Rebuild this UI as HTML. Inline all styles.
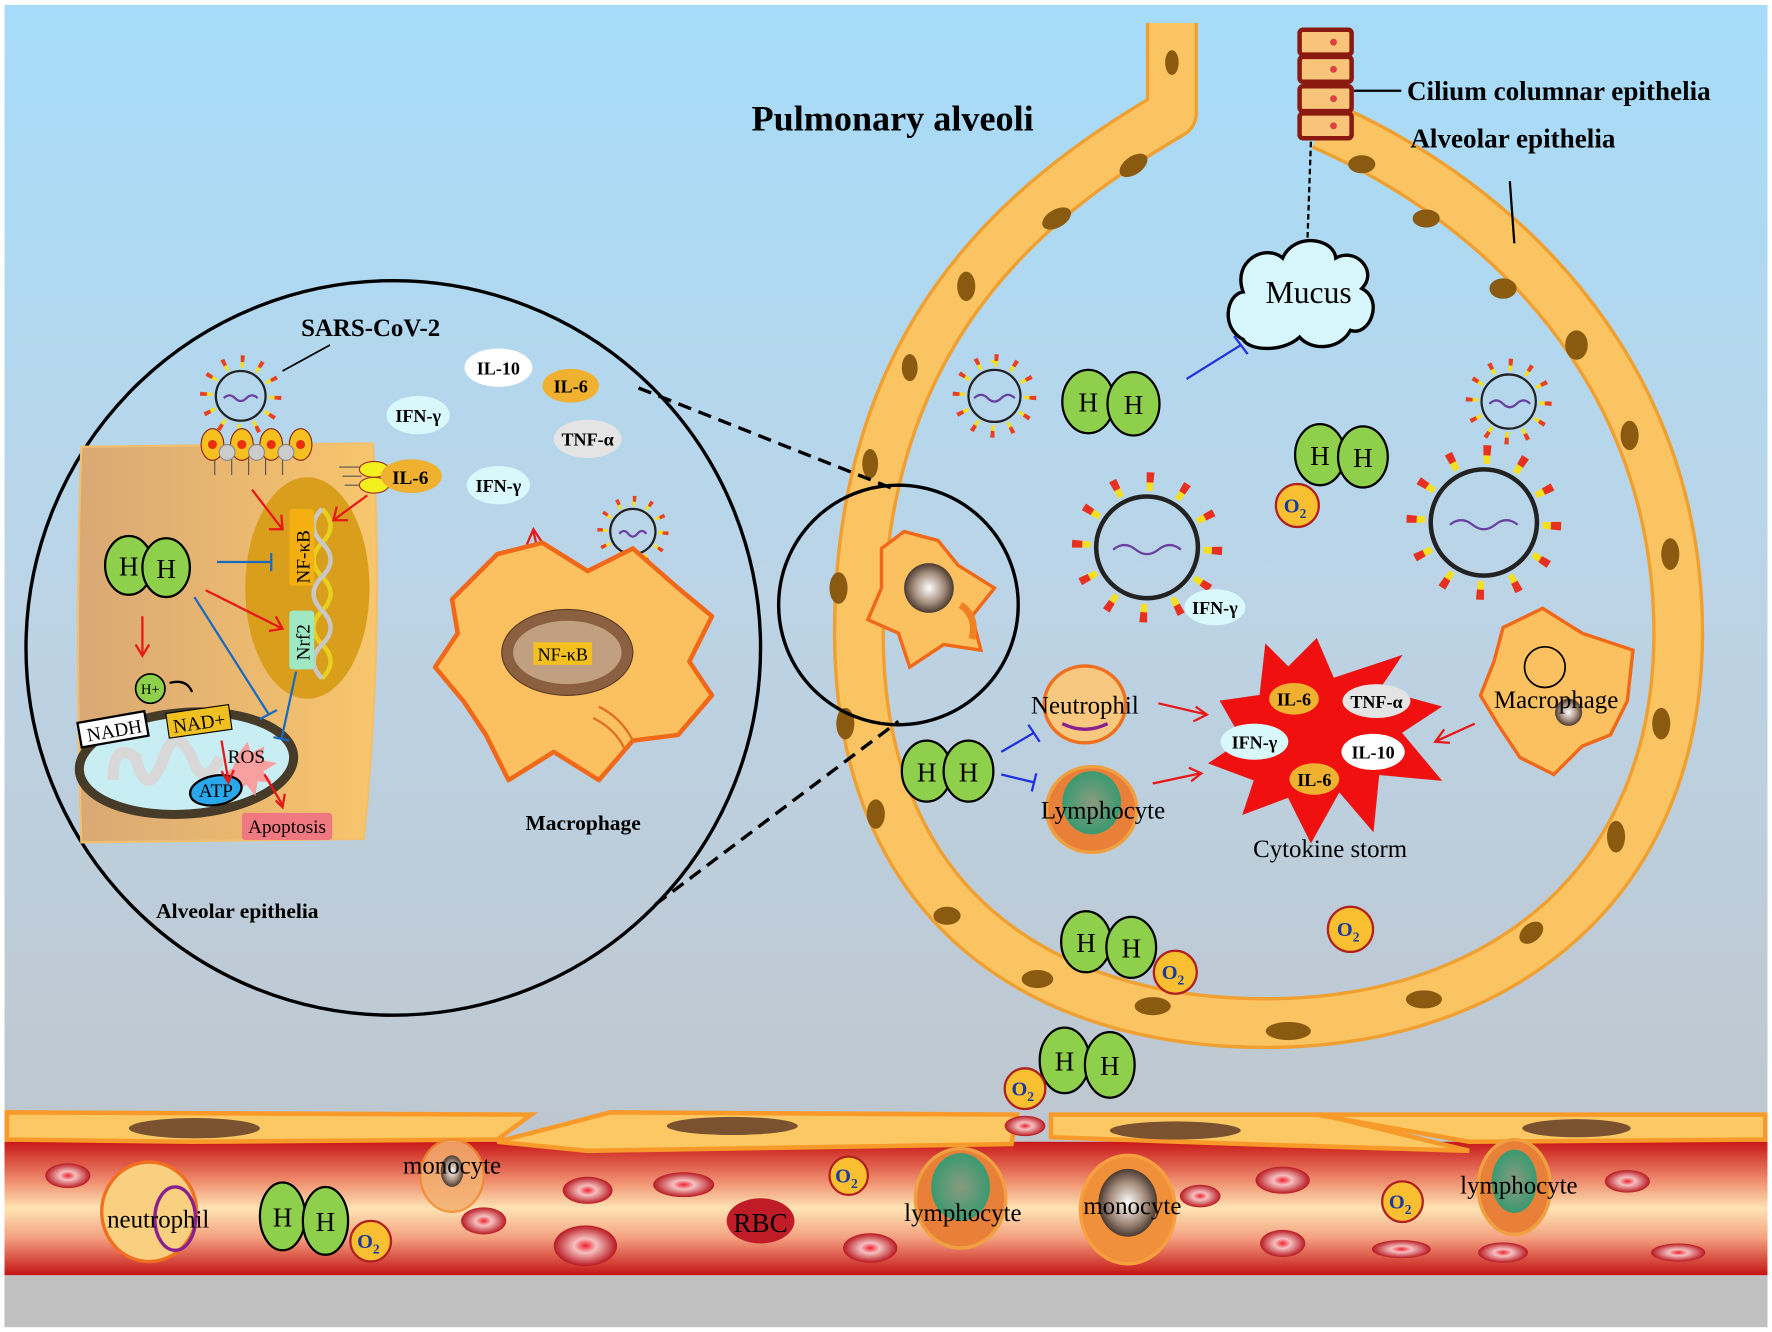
<!DOCTYPE html>
<html><head><meta charset="utf-8"><style>
html,body{margin:0;padding:0;background:#fff}
svg{display:block}
text{font-family:"Liberation Serif",serif}
</style></head><body>
<svg width="1772" height="1332" viewBox="0 0 1568 1178" xmlns="http://www.w3.org/2000/svg">
<defs>
<linearGradient id="bg" x1="0" y1="0" x2="0" y2="1">
<stop offset="0" stop-color="#a6dcf9"/><stop offset="0.45" stop-color="#bcd4e6"/><stop offset="1" stop-color="#bfc2c6"/>
</linearGradient>
<linearGradient id="ves" x1="0" y1="0" x2="0" y2="1">
<stop offset="0" stop-color="#c81818"/><stop offset="0.3" stop-color="#f09070"/><stop offset="0.5" stop-color="#fde4b4"/><stop offset="0.72" stop-color="#f4a080"/><stop offset="1" stop-color="#c41414"/>
</linearGradient>
<linearGradient id="cell" x1="0" y1="0" x2="1" y2="0">
<stop offset="0" stop-color="#d9a874"/><stop offset="1" stop-color="#f8c66c"/>
</linearGradient>
<radialGradient id="rbc"><stop offset="0" stop-color="#f02030"/><stop offset="0.35" stop-color="#f6c0c0"/><stop offset="1" stop-color="#b81820"/></radialGradient>
<radialGradient id="nuc"><stop offset="0" stop-color="#fff"/><stop offset="0.6" stop-color="#a89080"/><stop offset="1" stop-color="#4a3a30"/></radialGradient>
<radialGradient id="lym"><stop offset="0" stop-color="#8a9a80"/><stop offset="1" stop-color="#3a9a70"/></radialGradient>
</defs>
<rect x="0" y="0" width="1568" height="1178" fill="#fff"/>
<rect x="4" y="4" width="1560" height="1170" fill="url(#bg)"/>
<rect x="4" y="1128" width="1560" height="46" fill="#c0c0c0"/>

<!-- vessel -->
<rect x="4" y="1010" width="1560" height="118" fill="url(#ves)"/>
<path d="M6,984 L470,986 L440,1008 L170,1010 L6,1008Z" fill="#fbc864" stroke="#f89a2a" stroke-width="4"/>
<path d="M440,1010 L540,984 L900,986 L895,1012 L520,1018Z" fill="#fbc864" stroke="#f89a2a" stroke-width="4"/>
<path d="M930,986 L1170,986 L1300,1018 L1100,1012 L930,1006Z" fill="#fbc864" stroke="#f89a2a" stroke-width="4"/>
<path d="M1165,986 L1562,986 L1562,1008 L1300,1010Z" fill="#fbc864" stroke="#f89a2a" stroke-width="4"/>
<ellipse cx="172" cy="998" rx="58" ry="9" fill="#7a5230"/>
<ellipse cx="648" cy="996" rx="58" ry="8" fill="#7a5230"/>
<ellipse cx="1040" cy="1000" rx="58" ry="8" fill="#7a5230"/>
<ellipse cx="1395" cy="998" rx="48" ry="8" fill="#7a5230"/>

<!-- RBCs -->
<g fill="url(#rbc)">
<ellipse cx="60" cy="1040" rx="20" ry="11"/><ellipse cx="520" cy="1053" rx="22" ry="12"/><ellipse cx="605" cy="1048" rx="27" ry="11"/>
<ellipse cx="428" cy="1080" rx="20" ry="12"/><ellipse cx="518" cy="1102" rx="28" ry="18"/><ellipse cx="770" cy="1104" rx="24" ry="13"/>
<ellipse cx="1135" cy="1044" rx="24" ry="12"/><ellipse cx="1135" cy="1100" rx="20" ry="12"/><ellipse cx="1240" cy="1105" rx="26" ry="8"/>
<ellipse cx="1330" cy="1108" rx="22" ry="9"/><ellipse cx="1440" cy="1045" rx="20" ry="10"/><ellipse cx="1485" cy="1108" rx="24" ry="8"/>
<ellipse cx="1062" cy="1058" rx="18" ry="10"/><ellipse cx="907" cy="996" rx="18" ry="9"/>
</g>
<ellipse cx="673" cy="1080" rx="30" ry="20" fill="#c01c28"/>
<text x="673" y="1090" font-size="24" text-anchor="middle">RBC</text>
<!-- blood cells -->
<ellipse cx="132" cy="1072" rx="42" ry="44" fill="#f8d080" stroke="#f07020" stroke-width="3"/>
<ellipse cx="155" cy="1078" rx="18" ry="28" fill="none" stroke="#8a2090" stroke-width="3"/>
<text x="140" y="1086" font-size="22" text-anchor="middle">neutrophil</text>
<ellipse cx="400" cy="1040" rx="28" ry="32" fill="#f4b070" stroke="#f08a30" stroke-width="2" opacity="0.85"/>
<ellipse cx="400" cy="1036" rx="10" ry="14" fill="url(#nuc)"/>
<text x="400" y="1038" font-size="22" text-anchor="middle">monocyte</text>
<ellipse cx="850" cy="1060" rx="40" ry="44" fill="#e8803a" stroke="#f0a040" stroke-width="3"/>
<ellipse cx="850" cy="1050" rx="26" ry="30" fill="url(#lym)"/>
<text x="852" y="1080" font-size="22" text-anchor="middle">lymphocyte</text>
<ellipse cx="998" cy="1070" rx="42" ry="48" fill="#f0903a" stroke="#f8a040" stroke-width="3"/>
<ellipse cx="998" cy="1064" rx="26" ry="30" fill="url(#nuc)"/>
<text x="1002" y="1074" font-size="22" text-anchor="middle">monocyte</text>
<ellipse cx="1340" cy="1050" rx="32" ry="42" fill="#e8803a" stroke="#f0a040" stroke-width="3"/>
<ellipse cx="1340" cy="1045" rx="20" ry="28" fill="url(#lym)"/>
<text x="1344" y="1056" font-size="22" text-anchor="middle">lymphocyte</text>

<!-- alveolus ring -->
<path d="M1037,20 L1037,100 C900,180 760,300 760,560 C760,800 920,905 1120,905 C1330,905 1485,780 1485,560 C1485,330 1330,180 1170,110"
 fill="none" stroke="#f0a030" stroke-width="46" stroke-linejoin="round"/>
<path d="M1037,20 L1037,100 C900,180 760,300 760,560 C760,800 920,905 1120,905 C1330,905 1485,780 1485,560 C1485,330 1330,180 1170,110"
 fill="none" stroke="#fbc462" stroke-width="40" stroke-linejoin="round"/>
<g fill="#8a5a10">
<ellipse cx="1037" cy="55" rx="6" ry="11"/><ellipse cx="1003" cy="146" rx="14" ry="8" transform="rotate(-35 1003 146)"/>
<ellipse cx="935" cy="193" rx="14" ry="8" transform="rotate(-30 935 193)"/><ellipse cx="855" cy="253" rx="8" ry="13"/>
<ellipse cx="805" cy="325" rx="7" ry="12"/><ellipse cx="770" cy="410" rx="7" ry="13"/><ellipse cx="742" cy="520" rx="8" ry="14"/>
<ellipse cx="748" cy="640" rx="8" ry="14"/><ellipse cx="775" cy="720" rx="8" ry="13"/><ellipse cx="838" cy="810" rx="12" ry="8"/>
<ellipse cx="918" cy="866" rx="14" ry="8"/><ellipse cx="1020" cy="890" rx="16" ry="8"/><ellipse cx="1140" cy="912" rx="20" ry="8"/>
<ellipse cx="1260" cy="884" rx="16" ry="8"/><ellipse cx="1355" cy="825" rx="12" ry="8" transform="rotate(-40 1355 825)"/>
<ellipse cx="1430" cy="740" rx="8" ry="14"/><ellipse cx="1470" cy="640" rx="8" ry="14"/><ellipse cx="1478" cy="490" rx="8" ry="14"/>
<ellipse cx="1442" cy="385" rx="8" ry="13"/><ellipse cx="1395" cy="305" rx="10" ry="13"/><ellipse cx="1330" cy="255" rx="12" ry="9"/>
<ellipse cx="1262" cy="193" rx="12" ry="8"/><ellipse cx="1205" cy="145" rx="12" ry="8"/>
</g>
<!-- columnar cells -->
<g fill="#f8c47a" stroke="#8a1a10" stroke-width="4">
<rect x="1150" y="26" width="46" height="22" rx="3"/><rect x="1150" y="50" width="46" height="22" rx="3"/>
<rect x="1150" y="76" width="46" height="22" rx="3"/><rect x="1150" y="100" width="46" height="22" rx="3"/>
</g>
<g fill="#e04040"><circle cx="1180" cy="37" r="3"/><circle cx="1180" cy="61" r="3"/><circle cx="1180" cy="87" r="3"/><circle cx="1180" cy="111" r="3"/></g>
<line x1="1198" y1="80" x2="1240" y2="80" stroke="#000" stroke-width="2"/>
<line x1="1336" y1="160" x2="1340" y2="215" stroke="#000" stroke-width="2"/>
<line x1="1160" y1="125" x2="1157" y2="210" stroke="#000" stroke-width="2" stroke-dasharray="5,3"/>
<text x="1245" y="88" font-size="24" font-weight="bold">Cilium columnar epithelia</text>
<text x="1248" y="130" font-size="24" font-weight="bold">Alveolar epithelia</text>
<text x="665" y="115" font-size="32" font-weight="bold">Pulmonary alveoli</text>

<!-- mucus -->
<path d="M1100,300 C1080,290 1085,260 1100,258 C1090,230 1120,215 1135,228 C1145,205 1180,210 1182,228 C1200,218 1220,240 1205,255 C1225,265 1212,298 1195,292 C1185,310 1160,310 1150,298 C1135,312 1105,310 1100,300Z" fill="#d6f6fb" stroke="#000" stroke-width="3"/>
<text x="1158" y="268" font-size="28" text-anchor="middle">Mucus</text>
<line x1="1050" y1="335" x2="1098" y2="305" stroke="#2030e0" stroke-width="2"/>
<line x1="1092" y1="297" x2="1104" y2="313" stroke="#2030e0" stroke-width="2"/>

<!-- viruses -->
<g fill="none">
<g><circle cx="880" cy="350" r="29" stroke="#f4e020" stroke-width="6" stroke-dasharray="2,8" pathLength="120"/><circle cx="880" cy="350" r="34" stroke="#e84020" stroke-width="6" stroke-dasharray="2,8" pathLength="120"/><circle cx="880" cy="350" r="23" stroke="#222" stroke-width="2"/></g>
<g><circle cx="1015" cy="484" r="54" stroke="#f4e020" stroke-width="8" stroke-dasharray="2,8" pathLength="120"/><circle cx="1015" cy="484" r="62" stroke="#e83020" stroke-width="9" stroke-dasharray="2,8" pathLength="120"/><circle cx="1015" cy="484" r="45" stroke="#222" stroke-width="4"/></g>
<g><circle cx="1335" cy="355" r="30" stroke="#f4e020" stroke-width="6" stroke-dasharray="2,8" pathLength="120"/><circle cx="1335" cy="355" r="35" stroke="#e84020" stroke-width="6" stroke-dasharray="2,8" pathLength="120"/><circle cx="1335" cy="355" r="24" stroke="#222" stroke-width="2"/></g>
<g><circle cx="1313" cy="462" r="56" stroke="#f4e020" stroke-width="8" stroke-dasharray="2,8" pathLength="120"/><circle cx="1313" cy="462" r="64" stroke="#e83020" stroke-width="9" stroke-dasharray="2,8" pathLength="120"/><circle cx="1313" cy="462" r="47" stroke="#222" stroke-width="4"/></g>
<g><circle cx="213" cy="350" r="28" stroke="#f4e020" stroke-width="6" stroke-dasharray="2,8" pathLength="120"/><circle cx="213" cy="350" r="33" stroke="#e84020" stroke-width="6" stroke-dasharray="2,8" pathLength="120"/><circle cx="213" cy="350" r="22" stroke="#222" stroke-width="2"/></g>
<g><circle cx="560" cy="470" r="25" stroke="#f4e020" stroke-width="5" stroke-dasharray="2,8" pathLength="120"/><circle cx="560" cy="470" r="29" stroke="#e84020" stroke-width="5" stroke-dasharray="2,8" pathLength="120"/><circle cx="560" cy="470" r="20" stroke="#222" stroke-width="2"/></g>
<g><circle cx="117" cy="432" r="20" stroke="#f4e020" stroke-width="4" stroke-dasharray="2,8" pathLength="120"/><circle cx="117" cy="432" r="24" stroke="#e84020" stroke-width="4" stroke-dasharray="2,8" pathLength="120"/><circle cx="117" cy="432" r="15" stroke="#222" stroke-width="1.5"/></g>
</g>
<g stroke="#6a40a0" stroke-width="2" fill="none">
<path d="M862,352 q6,-6 12,0 t12,0 t12,0"/><path d="M985,486 q10,-8 20,0 t20,0 t20,0"/><path d="M1318,357 q6,-6 12,0 t12,0 t12,0"/>
<path d="M1283,464 q10,-8 20,0 t20,0 t20,0"/><path d="M198,352 q5,-5 10,0 t10,0 t10,0"/><path d="M548,472 q4,-5 8,0 t8,0 t8,0"/>
<path d="M107,434 q3,-4 7,0 t7,0 t7,0"/>
</g>

<!-- big zoom circle -->
<line x1="565" y1="343" x2="790" y2="432" stroke="#000" stroke-width="3" stroke-dasharray="12,7"/>
<line x1="580" y1="800" x2="795" y2="638" stroke="#000" stroke-width="3" stroke-dasharray="12,7"/>
<circle cx="348" cy="573" r="325" fill="none" stroke="#000" stroke-width="3"/>
<circle cx="795" cy="535" r="106" fill="none" stroke="#000" stroke-width="3"/>
<path d="M780,485 L800,470 L830,478 L848,500 L880,520 L860,545 L868,575 L835,570 L805,590 L795,560 L768,548 L780,520Z" fill="#fbc060" stroke="#f06818" stroke-width="3"/>
<circle cx="822" cy="520" r="22" fill="url(#nuc)"/>
<path d="M850,535 q15,10 10,30" stroke="#f08020" stroke-width="6" fill="none"/>

<!-- epithelial cell in circle -->
<path d="M72,395 L330,392 Q340,560 322,742 L72,745 Q66,560 72,395Z" fill="url(#cell)" stroke="#f0c070" stroke-width="2"/>
<ellipse cx="272" cy="520" rx="55" ry="98" fill="#d89e1c"/>
<path d="M285,450 q15,15 0,30 t0,30 t0,30 t0,30 t0,30" stroke="#e8d020" stroke-width="4" fill="none"/>
<path d="M285,450 q-15,15 0,30 t0,30 t0,30 t0,30 t0,30" stroke="#c8c8c8" stroke-width="4" fill="none"/>
<rect x="256" y="450" width="22" height="68" rx="3" fill="#f4b010"/>
<text transform="translate(274 516) rotate(-90)" font-size="17">NF-κB</text>
<rect x="256" y="540" width="22" height="52" rx="3" fill="#9ee8c4"/>
<text transform="translate(274 584) rotate(-90)" font-size="17">Nrf2</text>
<!-- receptors -->
<g stroke="#555" stroke-width="1"><line x1="190" y1="405" x2="190" y2="420"/><line x1="205" y1="405" x2="205" y2="420"/><line x1="220" y1="405" x2="220" y2="420"/><line x1="235" y1="405" x2="235" y2="420"/><line x1="250" y1="405" x2="250" y2="420"/></g>
<g fill="#f6c020" stroke="#8a2010" stroke-width="1"><ellipse cx="188" cy="393" rx="10" ry="14"/><ellipse cx="214" cy="393" rx="10" ry="14"/><ellipse cx="240" cy="393" rx="10" ry="14"/><ellipse cx="266" cy="393" rx="10" ry="14"/></g>
<g fill="#ccc" stroke="#888"><circle cx="201" cy="400" r="7"/><circle cx="227" cy="400" r="7"/><circle cx="253" cy="400" r="7"/></g>
<g fill="#e83010"><circle cx="188" cy="393" r="4"/><circle cx="214" cy="393" r="4"/><circle cx="240" cy="393" r="4"/><circle cx="266" cy="393" r="4"/></g>
<line x1="250" y1="328" x2="292" y2="305" stroke="#000" stroke-width="1.5"/>
<text x="328" y="297" font-size="22" font-weight="bold" text-anchor="middle">SARS-CoV-2</text>
<!-- IL-6 receptor -->
<g stroke="#555"><line x1="300" y1="413" x2="320" y2="413"/><line x1="303" y1="421" x2="320" y2="421"/><line x1="305" y1="429" x2="320" y2="429"/></g>
<ellipse cx="331" cy="415" rx="13" ry="7" fill="#f4f020" stroke="#a03020"/><ellipse cx="331" cy="429" rx="13" ry="7" fill="#f4f020" stroke="#a03020"/>
<ellipse cx="364" cy="421" rx="27" ry="15" fill="#f0b030"/>
<text x="363" y="428" font-size="17" font-weight="bold" text-anchor="middle">IL-6</text>
<!-- mitochondrion -->
<ellipse cx="165" cy="675" rx="95" ry="45" fill="#c8eef4" stroke="#463a28" stroke-width="8" transform="rotate(-4 165 675)"/>
<path d="M100,690 q0,-35 20,-20 q10,40 25,0 q10,-30 25,0 q10,30 25,0" stroke="#d8d8d8" stroke-width="10" fill="none"/>
<rect x="70" y="634" width="60" height="22" fill="#fff" stroke="#000" stroke-width="2" transform="rotate(-10 100 645)"/>
<text x="101" y="652" font-size="17" text-anchor="middle" transform="rotate(-10 100 645)">NADH</text>
<rect x="148" y="627" width="56" height="22" fill="#f0c020" stroke="#000" stroke-width="1" transform="rotate(-8 176 638)"/>
<text x="176" y="645" font-size="17" text-anchor="middle" transform="rotate(-8 176 638)">NAD+</text>
<circle cx="133" cy="609" r="13" fill="#8ed04b" stroke="#000" stroke-width="1.5"/>
<text x="133" y="614" font-size="13" text-anchor="middle">H+</text>
<path d="M210,668 l9,-12 l3,10 l12,-6 l-3,12 l14,3 l-12,7 l8,10 l-13,-1 l-2,13 l-8,-10 l-10,8 l0,-13 l-12,-2 l10,-8z" fill="#f8a0a0"/>
<text x="218" y="675" font-size="17" text-anchor="middle">ROS</text>
<ellipse cx="191" cy="699" rx="23" ry="13" fill="#2aa8ec" stroke="#000" stroke-width="2" transform="rotate(-10 191 699)"/>
<text x="191" y="705" font-size="17" text-anchor="middle">ATP</text>
<rect x="214" y="719" width="80" height="24" rx="3" fill="#f07880"/>
<text x="254" y="737" font-size="17" text-anchor="middle">Apoptosis</text>
<!-- arrows in cell -->
<g stroke="#e81818" stroke-width="2" fill="none">
<path d="M223,433 L250,468 M238,468 L250,468 L249,455"/>
<path d="M325,438 L295,460 M298,448 L295,460 L308,460"/>
<path d="M182,522 L250,556 M238,558 L250,556 L244,545"/>
<path d="M126,545 L126,578 M120,570 L126,580 L132,570"/>
<path d="M196,655 L202,690 M196,682 L202,692 L207,681"/>
<path d="M234,685 L250,712 M244,708 L250,714 L252,702"/>
<path d="M490,545 L472,470 M466,482 L472,468 L480,480"/>
<path d="M555,495 L520,555 M520,542 L518,558 L531,550"/>
</g>
<g stroke="#1a6ac0" stroke-width="2" fill="none">
<path d="M192,497 L240,497 M240,489 L240,505"/>
<path d="M172,528 L238,632 M230,636 L245,628"/>
<path d="M262,594 L249,654 M242,652 L256,655"/>
</g>
<path d="M150,604 Q165,600 170,612" stroke="#000" stroke-width="2" fill="none"/>

<!-- macrophage in circle -->
<path d="M440,490 L480,480 L520,505 L560,485 L600,520 L630,545 L610,585 L630,615 L600,650 L560,655 L530,690 L490,665 L450,690 L430,650 L410,620 L385,590 L405,560 L400,530Z" fill="#fbc060" stroke="#f06818" stroke-width="4" stroke-linejoin="round"/>
<ellipse cx="502" cy="577" rx="58" ry="38" fill="#8a6040" stroke="#5a3a20"/>
<ellipse cx="502" cy="577" rx="48" ry="28" fill="#c0a080"/>
<rect x="472" y="568" width="52" height="20" fill="#f4c020"/>
<text x="498" y="584" font-size="16" text-anchor="middle">NF-κB</text>
<path d="M530,625 q20,10 30,30 M525,635 q20,10 28,28" stroke="#e07020" stroke-width="2" fill="none"/>
<text x="516" y="734" font-size="19" font-weight="bold" text-anchor="middle">Macrophage</text>
<text x="210" y="812" font-size="19" font-weight="bold" text-anchor="middle">Alveolar epithelia</text>

<!-- cytokine bubbles in circle -->
<ellipse cx="441" cy="325" rx="30" ry="17" fill="#fff"/><text x="441" y="331" font-size="16" font-weight="bold" text-anchor="middle">IL-10</text>
<ellipse cx="505" cy="341" rx="25" ry="15" fill="#f0b030"/><text x="505" y="347" font-size="16" font-weight="bold" text-anchor="middle">IL-6</text>
<ellipse cx="370" cy="367" rx="28" ry="17" fill="#d8f8fc"/><text x="370" y="373" font-size="16" font-weight="bold" text-anchor="middle">IFN-γ</text>
<ellipse cx="520" cy="388" rx="30" ry="17" fill="#e4e4e4"/><text x="520" y="394" font-size="16" font-weight="bold" text-anchor="middle">TNF-α</text>
<ellipse cx="441" cy="429" rx="28" ry="17" fill="#d8f8fc"/><text x="441" y="435" font-size="16" font-weight="bold" text-anchor="middle">IFN-γ</text>

<!-- cytokine storm -->
<path d="M1120,570 L1140,590 L1165,565 L1180,600 L1240,580 L1220,610 L1275,625 L1240,648 L1275,690 L1220,685 L1215,735 L1185,700 L1160,745 L1140,705 L1100,720 L1110,690 L1070,675 L1100,655 L1080,620 L1115,615Z" fill="#f01010" stroke="#e81818"/>
<ellipse cx="1145" cy="618" rx="22" ry="14" fill="#f0b030"/><text x="1145" y="624" font-size="16" font-weight="bold" text-anchor="middle">IL-6</text>
<ellipse cx="1218" cy="620" rx="30" ry="15" fill="#e4e4e4"/><text x="1218" y="626" font-size="16" font-weight="bold" text-anchor="middle">TNF-α</text>
<ellipse cx="1110" cy="656" rx="30" ry="16" fill="#d8f8fc"/><text x="1110" y="662" font-size="16" font-weight="bold" text-anchor="middle">IFN-γ</text>
<ellipse cx="1215" cy="665" rx="28" ry="16" fill="#fff"/><text x="1215" y="671" font-size="16" font-weight="bold" text-anchor="middle">IL-10</text>
<ellipse cx="1163" cy="689" rx="22" ry="14" fill="#f0b030"/><text x="1163" y="695" font-size="16" font-weight="bold" text-anchor="middle">IL-6</text>
<text x="1177" y="758" font-size="22" text-anchor="middle">Cytokine storm</text>
<ellipse cx="1075" cy="537" rx="27" ry="16" fill="#d8f8fc"/><text x="1075" y="543" font-size="16" font-weight="bold" text-anchor="middle">IFN-γ</text>

<!-- neutrophil / lymphocyte in alveolus -->
<ellipse cx="960" cy="623" rx="36" ry="34" fill="#f8c880" stroke="#f07020" stroke-width="3"/>
<path d="M940,640 q20,10 40,0" stroke="#8a2090" stroke-width="3" fill="none"/>
<text x="960" y="631" font-size="22" text-anchor="middle">Neutrophil</text>
<ellipse cx="966" cy="716" rx="40" ry="38" fill="#e8803a" stroke="#f0a040" stroke-width="3"/>
<ellipse cx="966" cy="710" rx="26" ry="28" fill="url(#lym)"/>
<text x="976" y="724" font-size="22" text-anchor="middle">Lymphocyte</text>
<g stroke="#e81818" stroke-width="2" fill="none">
<path d="M1025,622 L1068,632 M1058,625 L1068,632 L1056,638"/>
<path d="M1020,693 L1062,684 M1052,679 L1063,684 L1054,691"/>
<path d="M1305,640 L1272,655 M1278,645 L1270,656 L1283,657"/>
</g>
<g stroke="#2030e0" stroke-width="2" fill="none">
<path d="M886,665 L915,648 M910,641 L920,656"/>
<path d="M886,685 L915,692 M917,684 L913,700"/>
</g>
<!-- macrophage right -->
<path d="M1330,555 L1365,538 L1400,560 L1445,575 L1440,620 L1425,650 L1400,660 L1375,685 L1345,670 L1325,640 L1310,615 L1322,585Z" fill="#fbc060" stroke="#f06818" stroke-width="3"/>
<circle cx="1388" cy="630" r="12" fill="url(#nuc)"/>
<circle cx="1367" cy="590" r="18" fill="none" stroke="#000" stroke-width="1.5"/>
<text x="1377" y="626" font-size="22" text-anchor="middle">Macrophage</text>

<!-- H2 molecules -->
<g font-size="24">
<g transform="translate(130 500)"><ellipse cx="-16" cy="0" rx="21" ry="26" fill="#8ed04b" stroke="#000" stroke-width="2"/><ellipse cx="17" cy="2" rx="21" ry="26" fill="#8ed04b" stroke="#000" stroke-width="2"/><text x="-16" y="9" text-anchor="middle">H</text><text x="17" y="11" text-anchor="middle">H</text></g>
<g transform="translate(983 355)"><ellipse cx="-20" cy="0" rx="23" ry="28" fill="#8ed04b" stroke="#000" stroke-width="2"/><ellipse cx="20" cy="2" rx="23" ry="28" fill="#8ed04b" stroke="#000" stroke-width="2"/><text x="-20" y="9" text-anchor="middle">H</text><text x="20" y="11" text-anchor="middle">H</text></g>
<g transform="translate(1186 402)"><ellipse cx="-18" cy="0" rx="22" ry="27" fill="#8ed04b" stroke="#000" stroke-width="2"/><ellipse cx="20" cy="2" rx="22" ry="27" fill="#8ed04b" stroke="#000" stroke-width="2"/><text x="-18" y="9" text-anchor="middle">H</text><text x="20" y="11" text-anchor="middle">H</text></g>
<g transform="translate(838 682)"><ellipse cx="-18" cy="0" rx="22" ry="27" fill="#8ed04b" stroke="#000" stroke-width="2"/><ellipse cx="19" cy="0" rx="22" ry="27" fill="#8ed04b" stroke="#000" stroke-width="2"/><text x="-18" y="9" text-anchor="middle">H</text><text x="19" y="9" text-anchor="middle">H</text></g>
<g transform="translate(981 836)"><ellipse cx="-20" cy="-3" rx="22" ry="27" fill="#8ed04b" stroke="#000" stroke-width="2"/><ellipse cx="20" cy="2" rx="22" ry="27" fill="#8ed04b" stroke="#000" stroke-width="2"/><text x="-20" y="6" text-anchor="middle">H</text><text x="20" y="11" text-anchor="middle">H</text></g>
<g transform="translate(962 940)"><ellipse cx="-20" cy="-2" rx="22" ry="29" fill="#8ed04b" stroke="#000" stroke-width="2"/><ellipse cx="20" cy="2" rx="22" ry="29" fill="#8ed04b" stroke="#000" stroke-width="2"/><text x="-20" y="7" text-anchor="middle">H</text><text x="20" y="11" text-anchor="middle">H</text></g>
<g transform="translate(268 1078)"><ellipse cx="-18" cy="-2" rx="20" ry="30" fill="#8ed04b" stroke="#000" stroke-width="2"/><ellipse cx="20" cy="2" rx="20" ry="30" fill="#8ed04b" stroke="#000" stroke-width="2"/><text x="-18" y="7" text-anchor="middle">H</text><text x="20" y="11" text-anchor="middle">H</text></g>
</g>
<!-- O2 -->
<g font-family="Liberation Sans" font-weight="bold" font-size="18" fill="#1a3aa0">
<g transform="translate(1148 447)"><circle r="19" fill="#f8c030" stroke="#b02020" stroke-width="2"/><text x="-2" y="6" text-anchor="middle" fill="#1a3aa0">O<tspan font-size="12" dy="5">2</tspan></text></g>
<g transform="translate(1040 860)"><circle r="19" fill="#f8c030" stroke="#b02020" stroke-width="2"/><text x="-2" y="6" text-anchor="middle" fill="#1a3aa0">O<tspan font-size="12" dy="5">2</tspan></text></g>
<g transform="translate(1195 822)"><circle r="20" fill="#f8c030" stroke="#b02020" stroke-width="2"/><text x="-2" y="6" text-anchor="middle" fill="#1a3aa0">O<tspan font-size="12" dy="5">2</tspan></text></g>
<g transform="translate(907 963)"><circle r="18" fill="#f8c030" stroke="#b02020" stroke-width="2"/><text x="-2" y="6" text-anchor="middle" fill="#1a3aa0">O<tspan font-size="12" dy="5">2</tspan></text></g>
<g transform="translate(751 1040)"><circle r="17" fill="#f8c030" stroke="#b02020" stroke-width="2"/><text x="-2" y="6" text-anchor="middle" fill="#1a3aa0">O<tspan font-size="12" dy="5">2</tspan></text></g>
<g transform="translate(328 1098)"><circle r="18" fill="#f8c030" stroke="#b02020" stroke-width="2"/><text x="-2" y="6" text-anchor="middle" fill="#1a3aa0">O<tspan font-size="12" dy="5">2</tspan></text></g>
<g transform="translate(1241 1063)"><circle r="18" fill="#f8c030" stroke="#b02020" stroke-width="2"/><text x="-2" y="6" text-anchor="middle" fill="#1a3aa0">O<tspan font-size="12" dy="5">2</tspan></text></g>
</g>
</svg>
</body></html>
